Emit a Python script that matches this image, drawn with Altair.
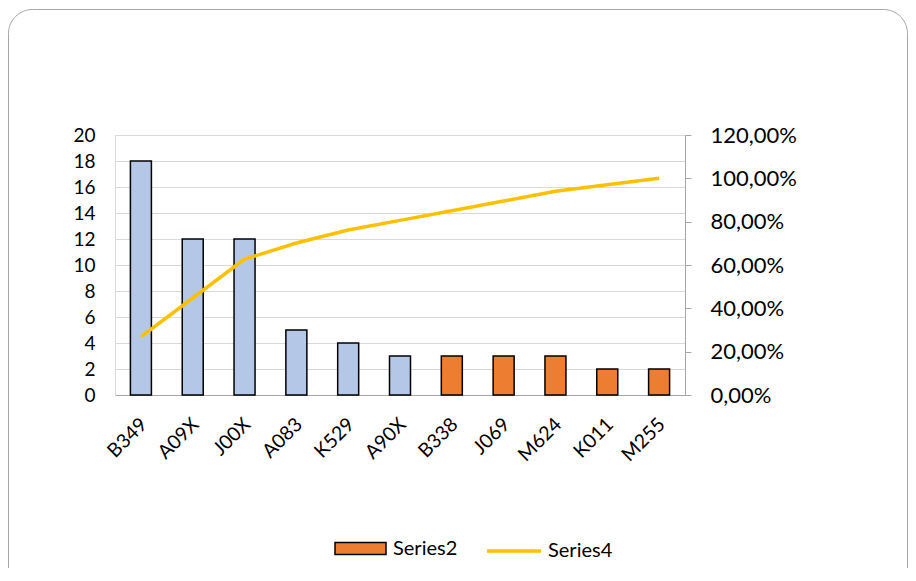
import altair as alt
import pandas as pd

categories = ["B349", "A09X", "J00X", "A083", "K529", "A90X", "B338", "J069", "M624", "K011", "M255"]
counts = [18, 12, 12, 5, 4, 3, 3, 3, 3, 2, 2]
groups = ["Series1"] * 6 + ["Series2"] * 5
cumulative = [0.2687, 0.4478, 0.6269, 0.7015, 0.7612, 0.8060, 0.8507, 0.8955, 0.9403, 0.9701, 1.0]
line_series = ["Series4"] * 11
left_ticks = [0, 2, 4, 6, 8, 10, 12, 14, 16, 18, 20]
right_ticks = [0, 0.2, 0.4, 0.6, 0.8, 1.0, 1.2]

df = pd.DataFrame({"cat": categories, "count": counts, "group": groups,
                   "cum": cumulative, "line": line_series})

FONT = "Lato"

frame = alt.Chart(alt.Data(values=[{"a": 1}])).mark_rect(
    fillOpacity=0, stroke="#A6A6A6", strokeWidth=1, cornerRadius=24
).encode(
    x=alt.value(-106.5), x2=alt.value(792.5), y=alt.value(-125.5), y2=alt.value(520)
)

bars = alt.Chart(df).mark_bar(size=21, stroke="black", strokeWidth=1.5).encode(
    x=alt.X("cat:N", sort=categories, title=None,
            scale=alt.Scale(paddingInner=0, paddingOuter=0),
            axis=alt.Axis(labelAngle=-45, labelAlign="right", labelBaseline="middle",
                          labelFontSize=19.5, labelFont=FONT, labelColor="#000000",
                          labelPadding=26, labelOffset=3, ticks=False, domainColor="#A6A6A6",
                          domainWidth=1)),
    y=alt.Y("count:Q", title=None, scale=alt.Scale(domain=[0, 20]),
            axis=alt.Axis(values=left_ticks, ticks=False, labelPadding=20,
                          labelFontSize=19, labelFont=FONT, labelColor="#000000",
                          domainColor="#D9D9D9", grid=True, gridColor="#D9D9D9",
                          gridWidth=1)),
    fill=alt.Fill("group:N",
                  scale=alt.Scale(domain=["Series1", "Series2"], range=["#B4C7E7", "#ED7D31"]),
                  legend=alt.Legend(values=["Series2"], title=None, orient="none",
                                    legendX=219, legendY=387,
                                    symbolType="M-1,-0.235H1V0.235H-1Z", symbolSize=2601,
                                    symbolStrokeColor="black", symbolStrokeWidth=1.5,
                                    labelFont=FONT, labelFontSize=20, labelColor="#000000",
                                    labelOffset=6, padding=0)),
)

line = alt.Chart(df).mark_line(strokeWidth=3.5).encode(
    x=alt.X("cat:N", sort=categories, bandPosition=0.5, title=None),
    y=alt.Y("cum:Q", title=None, scale=alt.Scale(domain=[0, 1.2]),
            axis=alt.Axis(orient="right", values=right_ticks, grid=False,
                          labelExpr="replace(format(datum.value, '.2%'), '.', ',')",
                          tickSize=6, tickColor="#A6A6A6", domainColor="#A6A6A6",
                          labelPadding=19, labelFontSize=22, labelFont=FONT,
                          labelColor="#000000")),
    stroke=alt.Stroke("line:N", scale=alt.Scale(domain=["Series4"], range=["#FFC000"]),
                      legend=alt.Legend(title=None, orient="none", legendX=370, legendY=387,
                                        symbolType="stroke", symbolSize=2916,
                                        symbolStrokeWidth=3.5,
                                        labelFont=FONT, labelFontSize=20, labelColor="#000000",
                                        labelOffset=5, padding=0)),
)

chart = alt.layer(frame, bars, line).resolve_scale(
    y="independent", fill="independent", stroke="independent"
).properties(
    width=570, height=260,
    autosize=alt.AutoSizeParams(type="none"),
    padding={"left": 107, "top": 127, "right": 223, "bottom": 173},
).configure_view(stroke=None).configure(background="white")

chart.save("out.html", embed_options={"renderer": "svg", "actions": False})
